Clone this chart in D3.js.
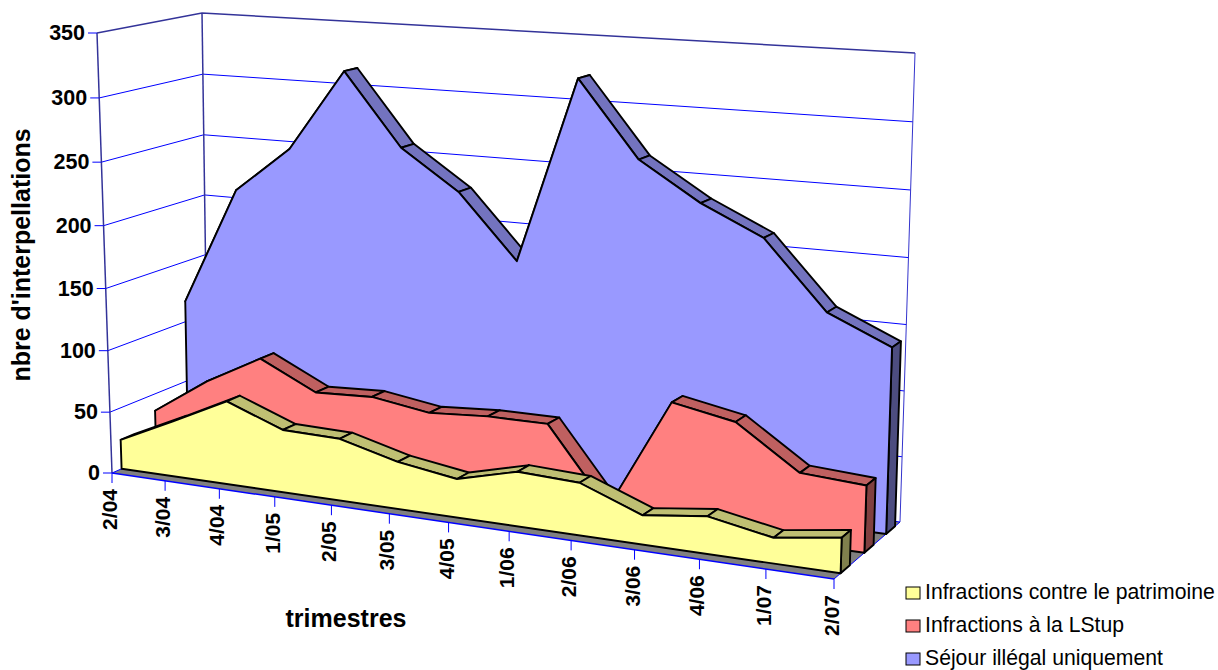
<!DOCTYPE html>
<html>
<head>
<meta charset="utf-8">
<script src="https://cdnjs.cloudflare.com/ajax/libs/d3/7.8.5/d3.min.js"></script>
<style>
  html, body { margin: 0; padding: 0; background: #fff; }
  text { font-family: "Liberation Sans", Arial, sans-serif; fill: #000; }
</style>
</head>
<body>
<div id="chart"></div>
<script>
const categories = ["2/04", "3/04", "4/04", "1/05", "2/05", "3/05", "4/05", "1/06", "2/06", "3/06", "4/06", "1/07", "2/07"];
const patrimoine = [24, 45, 67, 50, 49, 37, 30, 42, 40, 22, 28, 19, 26];
const lstup = [36, 66, 90, 68, 70, 63, 66, 66, 7, 94, 85, 53, 50];
const sejour = [117, 213, 250, 315, 258, 227, 177, 321, 263, 234, 212, 161, 140];
const yTicks = [0, 50, 100, 150, 200, 250, 300, 350];
const seriesNames = ["Infractions contre le patrimoine", "Infractions à la LStup", "Séjour illégal uniquement"];

const width = 1218, height = 670;

const svg = d3.select("#chart").append("svg")
    .attr("width", width)
    .attr("height", height)
    .style("display", "block");

// maps the unit square onto a quad, that gives the perspective of the excel 3d chart
function quad(p00, p10, p11, p01) {
    const dx1 = p10[0] - p11[0], dx2 = p01[0] - p11[0], sx = p00[0] - p10[0] + p11[0] - p01[0];
    const dy1 = p10[1] - p11[1], dy2 = p01[1] - p11[1], sy = p00[1] - p10[1] + p11[1] - p01[1];
    const den = dx1 * dy2 - dx2 * dy1;
    const g = (sx * dy2 - dx2 * sy) / den, h = (dx1 * sy - sx * dy1) / den;
    const a = p10[0] - p00[0] + g * p10[0], b = p01[0] - p00[0] + h * p01[0];
    const d = p10[1] - p00[1] + g * p10[1], e = p01[1] - p00[1] + h * p01[1];
    return (s, t) => {
        const q = g * s + h * t + 1;
        return [(a * s + b * t + p00[0]) / q, (d * s + e * t + p00[1]) / q];
    };
}

// front and back plane of the chart box
const frontPlane = quad([112, 473], [834, 579], [849, 77], [97, 33]);
const backPlane = quad([208, 431], [900, 522], [915, 53], [202, 13]);

const x = d3.scalePoint().domain(categories).range([0, 1]);
const y = d3.scaleLinear().domain([0, 350]).range([0, 1]);

function project(cat, value, depth) {
    const f = frontPlane(x(cat), y(value));
    const b = backPlane(x(cat), y(value));
    return [f[0] + (b[0] - f[0]) * depth, f[1] + (b[1] - f[1]) * depth];
}

const line = d3.line();
const first = categories[0], last = categories[categories.length - 1];

// Floor
svg.append("path")
    .attr("d", line([project(first, 0, 0), project(last, 0, 0), project(last, 0, 1), project(first, 0, 1)]) + "Z")
    .attr("fill", "#808080");

// Grid on the left wall and on the back wall
yTicks.forEach(t => {
    const col = t === 350 ? "#333399" : "#0000ff";
    const sw = t === 350 ? 1.5 : 1;
    svg.append("path")
        .attr("d", line([project(first, t, 0), project(first, t, 1), project(last, t, 1)]))
        .attr("fill", "none").attr("stroke", col).attr("stroke-width", sw);
});
[[first, 0], [first, 1], [last, 1]].forEach(([c, d]) => {
    svg.append("path")
        .attr("d", line([project(c, 0, d), project(c, 350, d)]))
        .attr("fill", "none").attr("stroke", c === last ? "#3333cc" : "#333399").attr("stroke-width", c === last ? 1 : 1.5);
});
svg.append("path")
    .attr("d", line([project(last, 0, 0), project(last, 0, 1)]))
    .attr("fill", "none").attr("stroke", "#0000ff").attr("stroke-width", 1);
svg.append("path")
    .attr("d", line([project(first, 0, 0), project(last, 0, 0)]))
    .attr("fill", "none").attr("stroke", "#0000ff").attr("stroke-width", 1.5);

// Areas, from back to front
const layers = [
    { values: sejour, front: 0.79, back: 0.925, fill: "#9999ff", top: "#7373bf", side: "#4d4d80" },
    { values: lstup, front: 0.46, back: 0.60, fill: "#ff8080", top: "#bf6060", side: "#804040" },
    { values: patrimoine, front: 0.10, back: 0.24, fill: "#ffff99", top: "#bfbf73", side: "#80804d" }
];

layers.forEach(l => {
    const g = svg.append("g")
        .attr("stroke", "#000").attr("stroke-width", 1.9).attr("stroke-linejoin", "round");

    // top strips
    categories.slice(0, -1).forEach((c, i) => {
        const n = categories[i + 1];
        g.append("path")
            .attr("d", line([
                project(c, l.values[i], l.front), project(n, l.values[i + 1], l.front),
                project(n, l.values[i + 1], l.back), project(c, l.values[i], l.back)
            ]) + "Z")
            .attr("fill", l.top);
    });

    // right end
    g.append("path")
        .attr("d", line([
            project(last, 0, l.front), project(last, l.values[12], l.front),
            project(last, l.values[12], l.back), project(last, 0, l.back)
        ]) + "Z")
        .attr("fill", l.side);

    // front face
    const pts = categories.map((c, i) => project(c, l.values[i], l.front));
    g.append("path")
        .attr("d", line([project(first, 0, l.front), ...pts, project(last, 0, l.front)]) + "Z")
        .attr("fill", l.fill);
});

// Axis Y
yTicks.forEach(t => {
    const p = project(first, t, 0);
    svg.append("line")
        .attr("x1", p[0] - 9).attr("x2", p[0])
        .attr("y1", p[1]).attr("y2", p[1])
        .attr("stroke", "#0000ff");
    svg.append("text")
        .attr("x", p[0] - 12)
        .attr("y", p[1] + 7)
        .attr("text-anchor", "end")
        .style("font-size", "21.5px")
        .style("font-weight", "bold")
        .text(t);
});

// Axis X
categories.forEach(c => {
    const p = project(c, 0, 0);
    svg.append("line")
        .attr("x1", p[0]).attr("x2", p[0])
        .attr("y1", p[1]).attr("y2", p[1] + 10)
        .attr("stroke", "#0000ff");
    svg.append("text")
        .attr("transform", `translate(${p[0] + 5},${p[1] + 16}) rotate(-90)`)
        .attr("text-anchor", "end")
        .style("font-size", "21px")
        .style("font-weight", "bold")
        .text(c);
});

// Titres
svg.append("text")
    .attr("x", 346).attr("y", 627)
    .attr("text-anchor", "middle")
    .style("font-size", "25px")
    .style("font-weight", "bold")
    .text("trimestres");

svg.append("text")
    .attr("transform", "translate(30,255) rotate(-90)")
    .attr("text-anchor", "middle")
    .style("font-size", "25px")
    .style("font-weight", "bold")
    .text("nbre d'interpellations");

// Legende
const legend = svg.selectAll(".legend")
    .data(seriesNames)
    .enter()
    .append("g")
    .attr("class", "legend")
    .attr("transform", (d, i) => `translate(906,${587 + i * 33})`);

legend.append("rect")
    .attr("width", 14).attr("height", 12)
    .attr("fill", (d, i) => layers[2 - i].fill)
    .attr("stroke", "#000");

legend.append("text")
    .attr("x", 19).attr("y", 12)
    .style("font-size", "21.2px")
    .text(d => d);
</script>
</body>
</html>
